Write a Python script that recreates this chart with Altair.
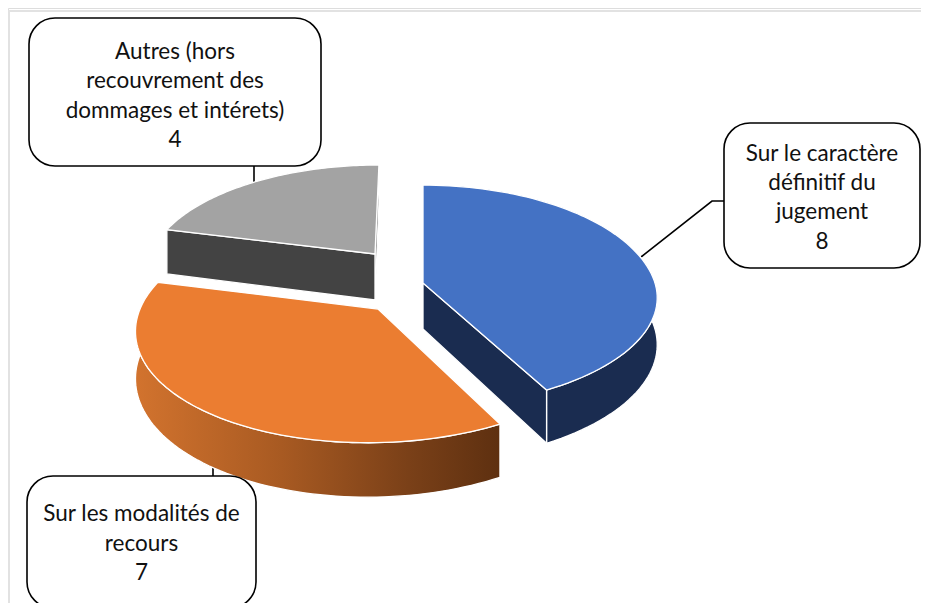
import math
import altair as alt

# --- values
categories = ["Sur le caractère définitif du jugement", "Sur les modalités de recours",
              "Autres (hors recouvrement des dommages et intérets)"]
values = [8, 7, 4]
label_lines = [
    ["Sur le caractère", "définitif du", "jugement", "8"],
    ["Sur les modalités de", "recours", "7"],
    ["Autres (hors", "recouvrement des", "dommages et intérets)", "4"],
]

OX = OY = 8  # page margin
K = 0.155
total = sum(values)
edges = [0]
for v in values:
    edges.append(edges[-1] + v / total * 2 * math.pi)


def project(a, cfg, depth=False):
    u, v = math.sin(a), math.cos(a)
    w = 1 + K * v
    x = cfg["R"] * u / w
    y = -113 * cfg["sy"] * v / w
    if y > 0:
        y *= cfg.get("syf", 1.0)
    x += (cfg["sf"] if y > 0 else cfg["sb"]) * y
    y += cfg["ay"]
    x += cfg["ax"]
    if depth:
        y += 46 / w
    return (x - OX, y - OY)


def arc(a0, a1, cfg, depth=False, n=80):
    return [project(a0 + (a1 - a0) * i / n, cfg, depth) for i in range(n + 1)]


def poly(pts, fill):
    ring = [list(p) for p in pts] + [list(pts[0])]
    return {"type": "Feature", "properties": {"fill": fill},
            "geometry": {"type": "Polygon", "coordinates": [ring]}}


def line(pts):
    return {"type": "Feature", "properties": {},
            "geometry": {"type": "LineString",
                         "coordinates": [[x - OX, y - OY] for x, y in pts]}}


blue = dict(ax=423, ay=283, R=232, sy=1.0, syf=0.93, sf=-0.04, sb=0.0)
orange = dict(ax=378, ay=309, R=238, sy=1.0, sf=-0.08, sb=-0.08)
grey = dict(ax=375, ay=254, R=224, sy=0.91, sf=0, sb=-0.044)

BLUE, NAVY = "#4472c4", "#1a2c50"
ORANGE = "#eb7d31"
GREY, DGREY = "#a3a3a3", "#434343"


def apex(cfg, depth=False):
    return (cfg["ax"] - OX, cfg["ay"] - OY + (46 if depth else 0))


# grey slice
g0, g1 = edges[2], edges[3]
grey_feats = [
    poly([project(g1, grey), project(g1, grey, True), apex(grey, True), apex(grey)], "#6e6e6e"),
    poly([project(g0, grey), project(g0, grey, True), apex(grey, True), apex(grey)], DGREY),
    poly(arc(g0, g1, grey) + [apex(grey)], GREY),
]
# orange slice
o0, o1 = edges[1], edges[2]
orange_rim = [poly(arc(o0, o1, orange) + arc(o0, o1, orange, True)[::-1], "none")]
orange_top = [poly(arc(o0, o1, orange) + [apex(orange)], ORANGE)]
# blue slice
b0, b1 = edges[0], edges[1]
blue_feats = [
    poly(arc(b0, b1, blue) + arc(b0, b1, blue, True)[::-1], NAVY),
    poly([apex(blue), project(b1, blue), project(b1, blue, True), apex(blue, True)], NAVY),
    poly(arc(b0, b1, blue) + [apex(blue)], BLUE),
]

proj = alt.Projection(type="identity", scale=1, translate=[0, 0])
fill_enc = alt.Fill("properties.fill:N", scale=None, legend=None)


def polys(feats, sw=1.3):
    return alt.Chart(alt.Data(values=feats)).mark_geoshape(
        stroke="#ffffff", strokeWidth=sw, filled=True
    ).encode(fill=fill_enc).project(**proj.to_dict())


def strokes(feats, color, sw):
    return alt.Chart(alt.Data(values=feats)).mark_geoshape(
        filled=False, fill=None, stroke=color, strokeWidth=sw
    ).project(**proj.to_dict())


frame = strokes([line([(9, 612), (9, 11), (940, 11)])], "#e2e2e2", 2)
leaders = strokes([
    line([(724, 201), (712, 201), (641, 257)]),
    line([(254, 166), (254, 185)]),
    line([(213, 462), (213, 476)]),
], "#000000", 1.6)

rim = alt.Chart(alt.Data(values=orange_rim)).mark_geoshape(
    filled=True, stroke="#ffffff", strokeWidth=1.3,
    fill=alt.LinearGradient(
        gradient="linear", x1=0, x2=1, y1=0, y2=0,
        stops=[alt.GradientStop(color="#d2732e", offset=0),
               alt.GradientStop(color="#a85a22", offset=0.4),
               alt.GradientStop(color="#7a4018", offset=0.75),
               alt.GradientStop(color="#5e3010", offset=1)],
    ),
).project(**proj.to_dict())

# callouts, in the same order as the categories
boxes = [
    dict(x=724, x2=920, y=123, y2=268, cat=categories[0]),
    dict(x=27, x2=256, y=476, y2=608, cat=categories[1]),
    dict(x=29, x2=321, y=18, y2=166, cat=categories[2]),
]
line_top = [154, 514, 51.5]
line_gap = [29.2, 29.5, 29.5]
for b in boxes:
    for k in ("x", "x2"):
        b[k] -= OX
    for k in ("y", "y2"):
        b[k] -= OY

box_layer = alt.Chart(alt.Data(values=boxes)).mark_rect(
    fill="#ffffff", stroke="#000000", strokeWidth=1.6, cornerRadius=26
).encode(
    x=alt.X("x:Q", scale=None, axis=None),
    x2="x2:Q",
    y=alt.Y("y:Q", scale=None, axis=None),
    y2="y2:Q",
)

rows = []
for b, lines, top, gap in zip(boxes, label_lines, line_top, line_gap):
    for i, t in enumerate(lines):
        rows.append({"t": t, "x": (b["x"] + b["x2"]) / 2,
                     "y": top + i * gap - OY})

text_layer = alt.Chart(alt.Data(values=rows)).mark_text(
    font="Lato", fontSize=22.5, color="#111111", align="center", baseline="middle"
).encode(
    x=alt.X("x:Q", scale=None, axis=None),
    y=alt.Y("y:Q", scale=None, axis=None),
    text="t:N",
)

chart = alt.layer(
    frame, leaders,
    polys(grey_feats),
    rim, polys(orange_top),
    polys(blue_feats),
    box_layer, text_layer,
).properties(
    width=913, height=595, padding=0,
    autosize=alt.AutoSizeParams(type="none"),
).configure_view(stroke=None).configure(background="#ffffff")

chart.save("out.html", embed_options={"renderer": "svg", "actions": False})
